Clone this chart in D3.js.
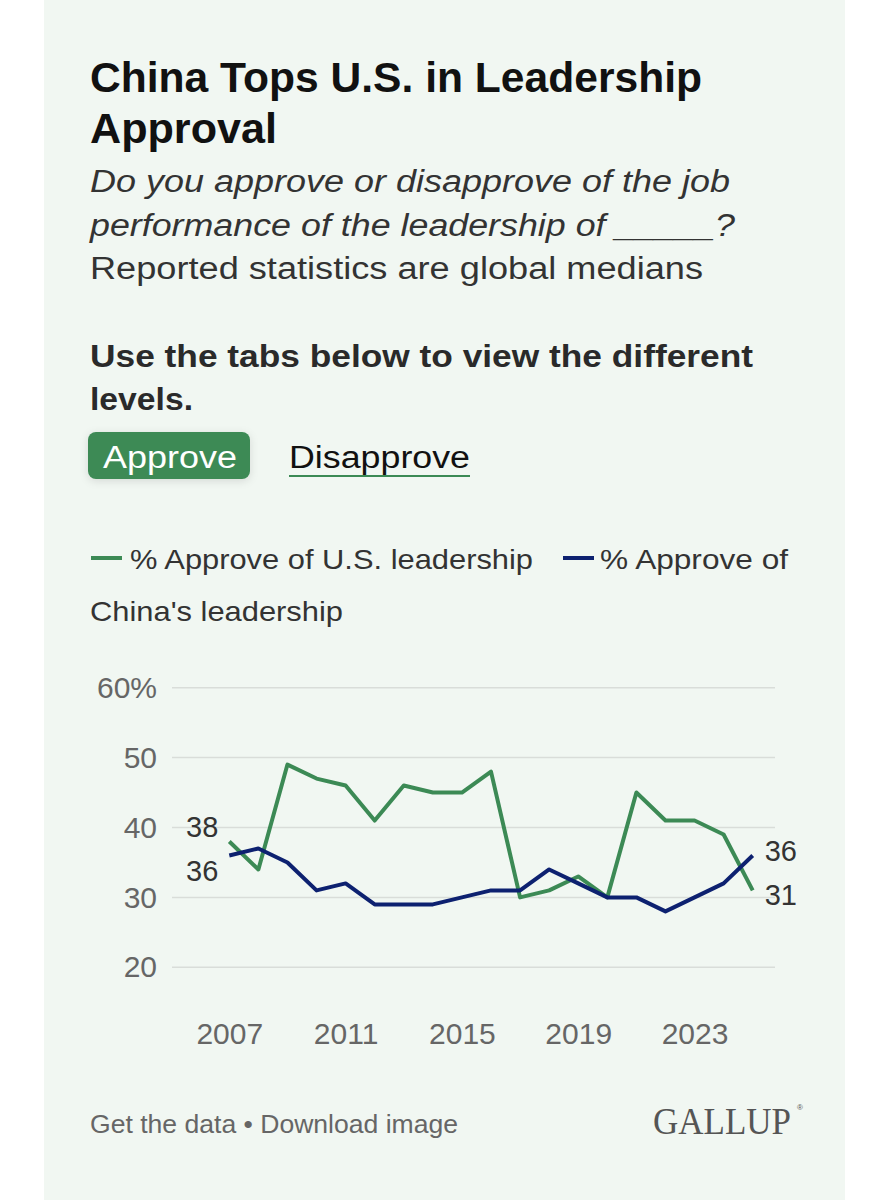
<!doctype html>
<html lang="en-us">
<head>
<meta charset="utf-8">
<title>China Tops U.S. in Leadership Approval</title>
<style type="text/css">
html, body { margin:0; padding:0; background:#fff; }
svg { display:block; font-family: "Liberation Sans", Arial, sans-serif; }
.grid line { stroke:#d9ddd9; stroke-width:1.5px; }
.axis text { fill:#666; font-size:30px; }
.line { fill:none; stroke-width:4px; stroke-linejoin:round; }
.lbl { fill:#333; font-size:29px; }
</style>
<script src="https://cdn.jsdelivr.net/npm/d3@7"></script>
</head>
<body>
<div id="chart"></div>
<script type="text/javascript">
// data
const years = [2007, 2008, 2009, 2010, 2011, 2012, 2013, 2014, 2015, 2016,
               2017, 2018, 2019, 2020, 2021, 2022, 2023, 2024, 2025];
const usApprove    = [38, 34, 49, 47, 46, 41, 46, 45, 45, 48, 30, 31, 33, 30, 45, 41, 41, 39, 31];
const chinaApprove = [36, 37, 35, 31, 32, 29, 29, 29, 30, 31, 31, 34, 32, 30, 30, 28, 30, 32, 36];
const yTicks = [20, 30, 40, 50, 60];
const xTicks = [2007, 2011, 2015, 2019, 2023];
const seriesNames = ["% Approve of U.S. leadership", "% Approve of China's leadership"];
const colors = ["#3c8a55", "#0d2170"];

const W = 889, H = 1200;
const svg = d3.select("#chart").append("svg")
	.attr("width", W).attr("height", H);

// card panel
svg.append("rect").attr("x", 44).attr("y", 0).attr("width", 801).attr("height", H)
	.attr("fill", "#f1f7f2");

// helper for header text lines
function line(txt, x, y, size, opts) {
	opts = opts || {};
	const t = svg.append("text")
		.attr("x", x).attr("y", y)
		.style("font-size", size + "px")
		.style("font-weight", opts.bold ? "bold" : "normal")
		.style("font-style", opts.italic ? "italic" : "normal")
		.attr("fill", opts.fill || "#222")
		.text(txt);
	if (opts.len) t.attr("textLength", opts.len).attr("lengthAdjust", "spacingAndGlyphs");
	return t;
}

line("China Tops U.S. in Leadership", 90, 92, 42, {bold: true, fill: "#111", len: 612});
line("Approval", 90, 143, 42, {bold: true, fill: "#111", len: 187});
line("Do you approve or disapprove of the job", 90, 192, 31, {italic: true, fill: "#333", len: 640});
line("performance of the leadership of _____?", 90, 236, 31, {italic: true, fill: "#333", len: 645});
line("Reported statistics are global medians", 90, 279, 31, {fill: "#333", len: 613});
line("Use the tabs below to view the different", 90, 367, 31, {bold: true, fill: "#2a2a2a", len: 663});
line("levels.", 90, 410, 31, {bold: true, fill: "#2a2a2a", len: 103});

// tabs
const defs = svg.append("defs");
const f = defs.append("filter").attr("id", "glow").attr("x", "-20%").attr("y", "-40%")
	.attr("width", "140%").attr("height", "180%");
f.append("feDropShadow").attr("dx", 0).attr("dy", 2).attr("stdDeviation", 4)
	.attr("flood-color", "#000").attr("flood-opacity", 0.12);
svg.append("rect").attr("x", 88).attr("y", 432).attr("width", 162).attr("height", 47)
	.attr("rx", 8).attr("fill", "#3c8a55").attr("filter", "url(#glow)");
line("Approve", 103, 468, 31, {fill: "#fff", len: 134});
line("Disapprove", 289, 468, 31, {fill: "#111", len: 181});
svg.append("line").attr("x1", 289).attr("x2", 470).attr("y1", 476).attr("y2", 476)
	.attr("stroke", "#3c8a55").attr("stroke-width", 2);

// legend
svg.append("line").attr("x1", 91).attr("x2", 122).attr("y1", 558).attr("y2", 558)
	.attr("stroke", colors[0]).attr("stroke-width", 4);
line(seriesNames[0], 130, 569, 28, {fill: "#333", len: 403});
svg.append("line").attr("x1", 563).attr("x2", 594).attr("y1", 558).attr("y2", 558)
	.attr("stroke", colors[1]).attr("stroke-width", 4);
line("% Approve of", 600, 569, 28, {fill: "#333", len: 188});
line("China's leadership", 90, 621, 28, {fill: "#333", len: 253});

// scales
const x = d3.scaleLinear().domain([2007, 2025]).range([229.3, 752.7]);
const y = d3.scaleLinear().domain([20, 60]).range([967.3, 687.7]);

// gridlines + y labels
const gy = svg.append("g").attr("class", "grid");
gy.selectAll("line").data(yTicks).enter().append("line")
	.attr("x1", 172).attr("x2", 775)
	.attr("y1", d => y(d)).attr("y2", d => y(d));

const yAxis = svg.append("g").attr("class", "axis")
	.attr("transform", "translate(157,0)")
	.call(d3.axisLeft(y).tickValues(yTicks).tickSize(0).tickPadding(0)
		.tickFormat(d => d === 60 ? d + "%" : d));
yAxis.select(".domain").remove();

const xAxis = svg.append("g").attr("class", "axis")
	.attr("transform", "translate(0,1012)")
	.call(d3.axisBottom(x).tickValues(xTicks).tickSize(0).tickPadding(0)
		.tickFormat(d3.format("d")));
xAxis.select(".domain").remove();
xAxis.selectAll("text").attr("dy", "1.07em");

// lines
const series = [usApprove, chinaApprove];
const lineGen = d3.line().x((d, i) => x(years[i])).y(d => y(d));
svg.selectAll(".line").data(series).enter().append("path")
	.attr("class", "line")
	.attr("stroke", (d, i) => colors[i])
	.attr("d", d => lineGen(d));

// start / end labels, pushed apart when they collide
function placeLabels(vals, gap) {
	const pos = vals.map(v => y(v));
	const order = pos[0] <= pos[1] ? [0, 1] : [1, 0];
	const d = pos[order[1]] - pos[order[0]];
	if (d < gap) {
		const push = (gap - d) / 2;
		pos[order[0]] -= push;
		pos[order[1]] += push;
	}
	return pos;
}
const first = series.map(s => s[0]);
const last = series.map(s => s[s.length - 1]);
const firstPos = placeLabels(first, 44);
const lastPos = placeLabels(last, 44);

first.forEach((v, i) => {
	svg.append("text").attr("class", "lbl")
		.attr("x", x(years[0]) - 11).attr("y", firstPos[i])
		.attr("dy", "0.36em").attr("text-anchor", "end").text(v);
});
last.forEach((v, i) => {
	svg.append("text").attr("class", "lbl")
		.attr("x", x(years[years.length - 1]) + 12).attr("y", lastPos[i])
		.attr("dy", "0.36em").text(v);
});

// footer
line("Get the data \u2022 Download image", 90, 1133, 25, {fill: "#666", len: 368});
svg.append("text").attr("x", 653).attr("y", 1134)
	.style("font-family", "'Liberation Serif', 'DejaVu Serif', serif")
	.style("font-size", "37px").attr("fill", "#555")
	.attr("textLength", 138).attr("lengthAdjust", "spacingAndGlyphs")
	.text("GALLUP");
svg.append("text").attr("x", 797).attr("y", 1110)
	.style("font-size", "8px").attr("fill", "#555").text("\u00AE");
</script>
</body>
</html>
